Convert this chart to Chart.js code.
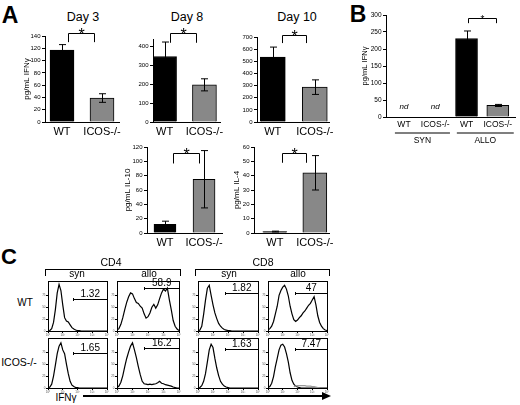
<!DOCTYPE html>
<html>
<head>
<meta charset="utf-8">
<script src="https://cdn.jsdelivr.net/npm/chart.js@4.4.0/dist/chart.umd.min.js"></script>
<style>
body { margin: 0; background: #fff; width: 520px; height: 405px; position: relative; overflow: hidden; font-family: "Liberation Sans", Arial, sans-serif; }
canvas { position: absolute; }
.t { position: absolute; transform: translate(-50%, -50%); white-space: nowrap; line-height: 1; color: #000; }
.brk { position: absolute; border: 1.5px solid #000; border-bottom: none; height: 6px; }
</style>
</head>
<body>
<script>
// panel A / B values (pg/mL), errors are the whiskers
const aCategories = ['WT', 'ICOS-/-'];
const day3Ifn = [117, 39];
const day3IfnErr = [9, 7];
const day8Ifn = [347, 197];
const day8IfnErr = [77, 32];
const day10Ifn = [534, 287];
const day10IfnErr = [83, 60];
const il10 = [12, 75];
const il10Err = [4.5, 40];
const il4 = [1, 42];
const il4Err = [0.3, 12];

const bCategories = ['WT', 'ICOS-/-', 'WT', 'ICOS-/-'];
const bGroups = ['SYN', 'ALLO'];
const bIfn = [0, 0, 231, 34];
const bIfnErr = [0, 0, 22, 3];
const bNd = ['nd', 'nd', '', ''];

// panel C histograms, % of max per bin (log IFNg axis, 8 bins per decade)
const histBins = [0,1,2,3,4,5,6,7,8,9,10,11,12,13,14,15,16,17,18,19,20,21,22,23,24,25,26,27,28,29,30,31,32];
const histTickBins = [0, 8, 16, 24, 32];
const histDecades = ['10⁰', '10¹', '10²', '10³', '10⁴'];
const cd4SynWT    = [0,1,5,18,45,80,98,85,55,28,21,19,13,7,4,2,1,1,0,0,0,0,0,0,0,0,0,0,0,0,0,0,0];
const cd4AlloWT   = [2,5,14,28,45,60,72,80,78,68,60,58,52,48,36,27,30,38,50,56,48,55,68,80,88,84,90,66,45,22,10,4,1];
const cd8SynWT    = [0,2,10,35,65,90,96,75,55,38,26,16,10,6,3,2,1,1,0,0,0,0,0,0,0,0,0,0,0,0,0,0,0];
const cd8AlloWT   = [2,5,10,20,36,52,75,85,92,96,88,74,52,36,24,20,23,28,32,38,42,48,54,58,65,72,55,32,18,10,5,2,1];
const cd4SynICOS  = [0,2,8,25,48,72,88,95,80,72,50,30,14,6,3,1,1,0,0,0,0,0,0,0,0,0,0,0,0,0,0,0,0];
const cd4AlloICOS = [1,4,12,26,45,62,76,88,95,80,64,45,28,14,9,8,7,8,7,8,9,11,14,10,9,7,6,5,4,2,1,0,0];
const cd8SynICOS  = [0,1,5,14,30,55,80,92,85,62,42,26,14,8,4,2,1,0,0,0,0,0,0,0,0,0,0,0,0,0,0,0,0];
const cd8AlloICOS = [1,3,10,24,45,62,80,90,92,86,72,55,32,16,8,4,2,1,0,0,0,0,0,0,0,0,0,0,0,0,0,0,0];
const cd8AlloICOSTail = [null,null,null,null,null,null,null,null,null,null,null,null,null,null,3,4,5,5,5,5,5,4,4,4,3,3,2,1,0,null,null,null,null];
const gatePercents = ['1.32', '58.9', '1.82', '47', '1.65', '16.2', '1.63', '7.47'];

Chart.defaults.font.family = '"Liberation Sans", Arial, sans-serif';
Chart.defaults.color = '#000';

function text(str, x, y, size, extra) {
  const d = document.createElement('div');
  d.className = 't';
  d.textContent = str;
  d.style.left = x + 'px';
  d.style.top = y + 'px';
  d.style.fontSize = size + 'px';
  if (extra) Object.assign(d.style, extra);
  document.body.appendChild(d);
}

function place(box, m) {
  const c = document.createElement('canvas');
  c.width = box.r - box.l + m.l + m.r;
  c.height = box.b - box.t + m.t + m.b;
  c.style.left = (box.l - m.l) + 'px';
  c.style.top = (box.t - m.t) + 'px';
  document.body.appendChild(c);
  return c;
}

const errorBars = {
  id: 'errorBars',
  afterDatasetsDraw(chart) {
    const ctx = chart.ctx, y = chart.scales.y;
    chart.data.datasets.forEach((ds, di) => {
      if (!ds.errors) return;
      chart.getDatasetMeta(di).data.forEach((bar, i) => {
        const e = ds.errors[i];
        if (!e) return;
        const v = ds.data[i].y;
        const top = y.getPixelForValue(v + e), bot = y.getPixelForValue(Math.max(v - e, 0));
        const x = Math.round(bar.x) + 0.5;
        ctx.save();
        ctx.strokeStyle = '#000';
        ctx.lineWidth = 1;
        ctx.beginPath();
        ctx.moveTo(x, top); ctx.lineTo(x, bot);
        ctx.moveTo(x - 3.5, top); ctx.lineTo(x + 3.5, top);
        ctx.moveTo(x - 3.5, bot); ctx.lineTo(x + 3.5, bot);
        ctx.stroke();
        ctx.restore();
      });
    });
  }
};

const sigBracket = {
  id: 'sig',
  afterDraw(chart, args, o) {
    if (!o || o.x0 === undefined) return;
    const ctx = chart.ctx, x = chart.scales.x, y = chart.scales.y;
    const xa = Math.round(x.getPixelForValue(o.x0)) + 0.5, xb = Math.round(x.getPixelForValue(o.x1)) + 0.5;
    const yt = Math.round(y.getPixelForValue(o.top)) + 0.5, yd = y.getPixelForValue(o.drop);
    ctx.save();
    ctx.strokeStyle = '#000';
    ctx.lineWidth = 1;
    ctx.beginPath();
    ctx.moveTo(xa, yd); ctx.lineTo(xa, yt); ctx.lineTo(xb, yt); ctx.lineTo(xb, yd);
    ctx.stroke();
    ctx.fillStyle = '#000';
    ctx.font = o.starSize + 'px "Liberation Sans"';
    ctx.textAlign = 'center';
    ctx.textBaseline = 'alphabetic';
    ctx.fillText('*', (xa + xb) / 2, yt + o.starSize * 0.42);
    ctx.restore();
  }
};

const bExtras = {
  id: 'extras',
  afterDraw(chart, args, o) {
    if (!o || !o.groups) return;
    const ctx = chart.ctx, x = chart.scales.x, y = chart.scales.y, b = chart.chartArea.bottom;
    ctx.save();
    ctx.fillStyle = '#000';
    ctx.strokeStyle = '#000';
    ctx.textAlign = 'center';
    ctx.textBaseline = 'middle';
    ctx.font = 'italic 8px "Liberation Sans"';
    o.nd.forEach((t, i) => { if (t) ctx.fillText(t, x.getPixelForValue(i), y.getPixelForValue(o.ndLevel)); });
    ctx.font = '8.5px "Liberation Sans"';
    ctx.lineWidth = 1.2;
    o.groups.forEach((g, k) => {
      const x0 = x.getPixelForValue(o.spans[k][0]), x1 = x.getPixelForValue(o.spans[k][1]);
      ctx.beginPath();
      ctx.moveTo(x0, b + 16); ctx.lineTo(x1, b + 16);
      ctx.stroke();
      ctx.fillText(g, (x0 + x1) / 2, b + 23.5);
    });
    ctx.restore();
  }
};

function barPanel(box, m, cfg) {
  const canvas = place(box, m);
  const step = cfg.step;
  return new Chart(canvas, {
    type: 'bar',
    data: {
      datasets: [{
        data: cfg.values.map((v, i) => ({ x: i, y: v })),
        errors: cfg.errors,
        backgroundColor: cfg.colors,
        borderColor: '#000',
        borderWidth: 1,
        barThickness: cfg.barW
      }]
    },
    options: {
      responsive: false,
      animation: false,
      layout: { padding: { top: m.t, right: m.r, left: 0, bottom: 0 } },
      plugins: { legend: { display: false }, tooltip: { enabled: false }, sig: cfg.sig, extras: cfg.extras },
      scales: {
        x: {
          type: 'linear', min: cfg.xMin, max: cfg.xMax, offset: false,
          grid: { display: false, drawTicks: false },
          border: { display: true, color: '#000', width: 1 },
          afterBuildTicks: s => { s.ticks = cfg.labels.map((_, i) => ({ value: i })); },
          afterFit: s => { s.height = m.b; },
          ticks: { autoSkip: false, maxRotation: 0, padding: cfg.labelPad || 3, font: { size: cfg.labelSize || 11 },
                   callback: v => cfg.labels[v] }
        },
        y: {
          min: 0, max: cfg.yMax,
          grid: { display: true, drawOnChartArea: false, drawTicks: true, tickLength: 3, color: '#000' },
          border: { display: true, color: '#000', width: 1 },
          afterBuildTicks: s => { s.ticks = s.ticks.filter(t => Math.abs(t.value / step - Math.round(t.value / step)) < 1e-6); },
          afterFit: s => { s.width = m.l; },
          title: cfg.yTitle ? { display: true, text: cfg.yTitle, padding: 0, font: { size: cfg.titleSize || 8 } } : { display: false },
          ticks: { stepSize: step, padding: 1.5, font: { size: cfg.tickSize || 6 } }
        }
      }
    },
    plugins: [errorBars, sigBracket, bExtras]
  });
}

const histFrame = {
  id: 'histFrame',
  afterDraw(chart) {
    const a = chart.chartArea, ctx = chart.ctx;
    ctx.save();
    ctx.strokeStyle = '#000';
    ctx.lineWidth = 1;
    ctx.strokeRect(Math.round(a.left) + 0.5, Math.round(a.top) + 0.5, Math.round(a.right - a.left), Math.round(a.bottom - a.top));
    ctx.restore();
  }
};

const gatePlugin = {
  id: 'gate',
  afterDatasetsDraw(chart, args, o) {
    if (!o || !o.label) return;
    const ctx = chart.ctx, x = chart.scales.x, y = chart.scales.y;
    const x0 = Math.round(x.getPixelForValue(o.start)) + 0.5, x1 = chart.chartArea.right;
    const yy = Math.round(y.getPixelForValue(o.level)) + 0.5;
    ctx.save();
    ctx.strokeStyle = '#000';
    ctx.fillStyle = '#000';
    ctx.lineWidth = 1;
    ctx.beginPath();
    ctx.moveTo(x0, yy); ctx.lineTo(x1, yy);
    ctx.moveTo(x0, yy - 1.5); ctx.lineTo(x0, yy + 1.5);
    ctx.stroke();
    ctx.font = '10px "Liberation Sans"';
    ctx.textAlign = 'center';
    ctx.textBaseline = 'bottom';
    ctx.fillText(o.label, (x0 + x1) / 2, yy);
    ctx.restore();
  }
};

function histPanel(box, series, gate) {
  const m = { l: 7, t: 3, r: 7, b: 7 };
  const canvas = place(box, m);
  return new Chart(canvas, {
    type: 'line',
    data: {
      datasets: series.map(s => ({
        data: s.values.map((v, i) => ({ x: histBins[i], y: v })),
        borderColor: s.color,
        borderWidth: 1.2,
        pointRadius: 0,
        tension: 0,
        fill: false,
        spanGaps: false
      }))
    },
    options: {
      responsive: false,
      animation: false,
      layout: { padding: { top: m.t, right: m.r, left: 0, bottom: 0 } },
      plugins: { legend: { display: false }, tooltip: { enabled: false }, gate },
      scales: {
        x: {
          type: 'linear', min: 0, max: 32,
          grid: { display: true, drawOnChartArea: false, tickLength: 2, color: '#000' },
          border: { display: true, color: '#000' },
          afterBuildTicks: s => { s.ticks = histTickBins.map(v => ({ value: v })); },
          afterFit: s => { s.height = m.b; },
          ticks: { autoSkip: false, maxRotation: 0, padding: 0.5, font: { size: 3 }, color: '#555',
                   callback: v => histDecades[histTickBins.indexOf(v)] }
        },
        y: {
          min: 0, max: 105,
          grid: { display: true, drawOnChartArea: false, tickLength: 2, color: '#000' },
          border: { display: true, color: '#000' },
          afterBuildTicks: s => { s.ticks = s.ticks.filter(t => t.value % 25 === 0 && t.value <= 100); },
          afterFit: s => { s.width = m.l; },
          ticks: { stepSize: 25, padding: 0.5, font: { size: 3 }, color: '#555' }
        }
      }
    },
    plugins: [gatePlugin, histFrame]
  });
}

// ---- panel A
text('A', 10, 15, 23, { fontWeight: 'bold' });
text('Day 3', 83, 17, 12.5);
text('Day 8', 187, 17, 12.5);
text('Day 10', 297, 17, 12.5);

const aColors = ['#000', '#888'];
barPanel({ l: 45, t: 36, r: 119, b: 122 }, { l: 23, t: 12, r: 8, b: 20 }, {
  values: day3Ifn, errors: day3IfnErr, labels: aCategories, colors: aColors,
  xMin: -0.425, xMax: 1.425, yMax: 140, step: 20, barW: 24, yTitle: 'pg/mL IFNγ',
  sig: { x0: 0.15, x1: 0.8, top: 145, drop: 130, starSize: 16 }
});
barPanel({ l: 153, t: 39, r: 220, b: 122 }, { l: 16, t: 12, r: 8, b: 20 }, {
  values: day8Ifn, errors: day8IfnErr, labels: aCategories, colors: aColors,
  xMin: -0.29, xMax: 1.39, yMax: 440, step: 100, barW: 24,
  sig: { x0: 0.14, x1: 0.79, top: 472, drop: 420, starSize: 16 }
});
barPanel({ l: 257, t: 37, r: 330, b: 122 }, { l: 16, t: 12, r: 8, b: 20 }, {
  values: day10Ifn, errors: day10IfnErr, labels: aCategories, colors: aColors,
  xMin: -0.376, xMax: 1.34, yMax: 700, step: 100, barW: 25,
  sig: { x0: 0.21, x1: 0.8, top: 719, drop: 650, starSize: 16 }
});
barPanel({ l: 147, t: 147, r: 222, b: 233 }, { l: 24, t: 10, r: 8, b: 20 }, {
  values: il10, errors: il10Err, labels: aCategories, colors: aColors,
  xMin: -0.46, xMax: 1.46, yMax: 120, step: 20, barW: 22, yTitle: 'pg/mL IL-10',
  sig: { x0: 0.2, x1: 0.87, top: 111, drop: 97, starSize: 16 }
});
barPanel({ l: 254, t: 147, r: 330, b: 233 }, { l: 22, t: 10, r: 8, b: 20 }, {
  values: il4, errors: il4Err, labels: aCategories, colors: aColors,
  xMin: -0.52, xMax: 1.36, yMax: 60, step: 10, barW: 24, yTitle: 'pg/mL IL-4',
  sig: { x0: 0.17, x1: 0.79, top: 56, drop: 49, starSize: 16 }
});

// ---- panel B
text('B', 358, 14, 23, { fontWeight: 'bold' });
barPanel({ l: 386, t: 15, r: 515, b: 117 }, { l: 26, t: 12, r: 5, b: 30 }, {
  values: bIfn, errors: bIfnErr, labels: bCategories, colors: ['#000', '#888', '#000', '#888'],
  xMin: -0.575, xMax: 3.55, yMax: 300, step: 50, barW: 22, yTitle: 'pg/mL IFNγ', titleSize: 7.5,
  tickSize: 6.5, labelSize: 8.5, labelPad: 3,
  sig: { x0: 2.05, x1: 2.95, top: 291, drop: 276, starSize: 10 },
  extras: { nd: bNd, ndLevel: 29, groups: bGroups, spans: [[-0.29, 1.47], [1.69, 3.51]] }
});

// ---- panel C
text('C', 9, 257, 22, { fontWeight: 'bold' });
text('CD4', 111, 262, 10.5);
text('CD8', 263, 262, 10.5);
[[45, 134], [195, 133]].forEach(([l, w]) => {
  const d = document.createElement('div');
  d.className = 'brk';
  d.style.left = l + 'px';
  d.style.top = '269px';
  d.style.width = w + 'px';
  document.body.appendChild(d);
});
text('syn', 77, 274, 10);
text('allo', 149, 274, 10);
text('syn', 229, 274, 10);
text('allo', 298, 274, 10);
text('WT', 25, 303, 10);
text('ICOS-/-', 19, 362, 10.5);
text('IFNγ', 66, 398, 10);

const cols = [[48, 107], [117, 179], [198, 258], [268, 327]];
const rows = [[281, 331], [338, 388]];
const histRows = [
  [[{ values: cd4SynWT, color: '#000' }], [{ values: cd4AlloWT, color: '#000' }],
   [{ values: cd8SynWT, color: '#000' }], [{ values: cd8AlloWT, color: '#000' }]],
  [[{ values: cd4SynICOS, color: '#000' }], [{ values: cd4AlloICOS, color: '#000' }],
   [{ values: cd8SynICOS, color: '#000' }], [{ values: cd8AlloICOSTail, color: '#999' }, { values: cd8AlloICOS, color: '#000' }]]
];
const gateStarts = [13.4, 14, 14.2, 14.4];
const gateLevels = [[67, 90, 80, 80], [73, 85, 81, 81]];
histRows.forEach((row, r) => {
  row.forEach((series, c) => {
    histPanel({ l: cols[c][0], t: rows[r][0], r: cols[c][1], b: rows[r][1] }, series,
      { start: gateStarts[c], level: gateLevels[r][c], label: gatePercents[r * 4 + c] });
  });
});

// IFNg arrow under panel C
const line = document.createElement('div');
Object.assign(line.style, { position: 'absolute', left: '83px', top: '395px', width: '240px', height: '1.5px', background: '#000' });
document.body.appendChild(line);
const head = document.createElement('div');
Object.assign(head.style, { position: 'absolute', left: '322px', top: '391.75px', width: 0, height: 0,
  borderLeft: '9px solid #000', borderTop: '4px solid transparent', borderBottom: '4px solid transparent' });
document.body.appendChild(head);
</script>
</body>
</html>
